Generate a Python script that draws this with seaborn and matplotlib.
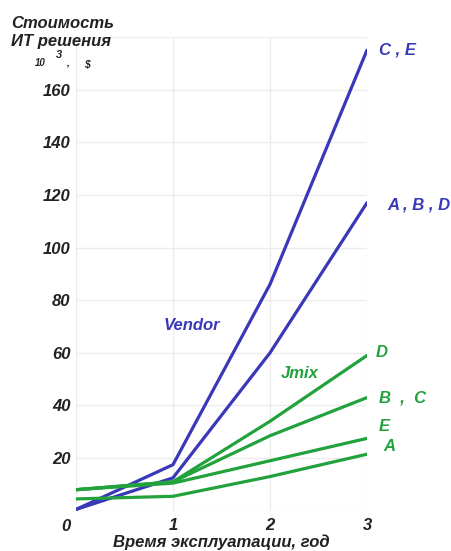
import pandas as pd
import numpy as np
import matplotlib
matplotlib.use('Agg')
import matplotlib.pyplot as plt
import seaborn as sns

# Years of operation and cost (thousands of $) for each solution set
years = [0, 1, 2, 3]
vendor_ce = [0.5, 17.5, 86, 175]
vendor_abd = [0.5, 12.5, 60, 117]
jmix_d = [8, 11, 34, 59]
jmix_bc = [8, 11, 28.5, 43]
jmix_e = [8, 10.5, 19, 27.5]
jmix_a = [4.5, 5.5, 13, 21.5]

y_ticks = [20, 40, 60, 80, 100, 120, 140, 160]
x_ticks = [1, 2, 3]

blue = '#3838b8'
green = '#22a23c'

series = {
    'Vendor C,E': vendor_ce,
    'Vendor A,B,D': vendor_abd,
    'Jmix D': jmix_d,
    'Jmix B,C': jmix_bc,
    'Jmix E': jmix_e,
    'Jmix A': jmix_a,
}
df = pd.concat([pd.DataFrame({'year': years, 'cost': v, 'set': k}) for k, v in series.items()])
palette = {k: (blue if k.startswith('Vendor') else green) for k in series}

sns.set_style('white')
plt.rcParams['font.family'] = ['Liberation Sans', 'DejaVu Sans']

fig = plt.figure(figsize=(4.52, 5.51), dpi=100)
ax = fig.add_axes([0.168, 0.073, 0.644, 0.86])

sns.lineplot(data=df, x='year', y='cost', hue='set', palette=palette,
             linewidth=2.3, legend=False, ax=ax)

ax.set_xlim(0, 3)
ax.set_ylim(0, 180)
ax.set_xticks([0] + x_ticks)
ax.set_xticklabels([''] + [str(t) for t in x_ticks])
ax.set_yticks([0] + y_ticks + [180])
ax.set_yticklabels([''] + [str(t) for t in y_ticks] + [''])
ax.grid(True, color='#ececec', linewidth=1)
for s in ax.spines.values():
    s.set_visible(False)
ax.tick_params(length=0, labelsize=12, pad=4)
ax.tick_params(axis='x', pad=5)
for lab in ax.get_xticklabels() + ax.get_yticklabels():
    lab.set_fontweight('bold')
    lab.set_fontstyle('italic')
    lab.set_color('#222222')

ax.set_xlabel('Время эксплуатации, год', fontsize=12, fontweight='bold',
              fontstyle='italic', color='#222222', labelpad=1)
ax.set_ylabel('')

# origin label
ax.text(-0.06, -3, '0', ha='right', va='top', fontsize=12,
        fontweight='bold', fontstyle='italic', color='#222222', clip_on=False)

# axis title in top-left corner
tkw = dict(fontweight='bold', fontstyle='italic', color='#222222')
fig.text(0.025, 0.958, 'Стоимость', fontsize=12, ha='left', va='center', **tkw)
fig.text(0.025, 0.925, 'ИТ решения', fontsize=12, ha='left', va='center', **tkw)
fig.text(0.077, 0.886, '10', fontsize=7, ha='left', va='center', **tkw)
fig.text(0.124, 0.900, '3', fontsize=8, ha='left', va='center', **tkw)
fig.text(0.146, 0.886, ',', fontsize=8, ha='left', va='center', **tkw)
fig.text(0.185, 0.884, '$', fontsize=7.5, ha='left', va='center', **tkw)

# series annotations
akw = dict(fontweight='bold', fontstyle='italic', fontsize=12, clip_on=False, va='center')
ax.text(3.12, 175, 'C , E', color=blue, ha='left', **akw)
ax.text(3.21, 116, 'A , B , D', color=blue, ha='left', **akw)
ax.text(1.2, 70.5, 'Vendor', color=blue, ha='center', **akw)
ax.text(2.31, 52.3, 'Jmix', color=green, ha='center', **akw)
ax.text(3.09, 60, 'D', color=green, ha='left', **akw)
ax.text(3.12, 43, 'B  ,  C', color=green, ha='left', **akw)
ax.text(3.12, 32, 'E', color=green, ha='left', **akw)
ax.text(3.17, 24.5, 'A', color=green, ha='left', **akw)

fig.savefig('out.png', dpi=100, facecolor='white')
